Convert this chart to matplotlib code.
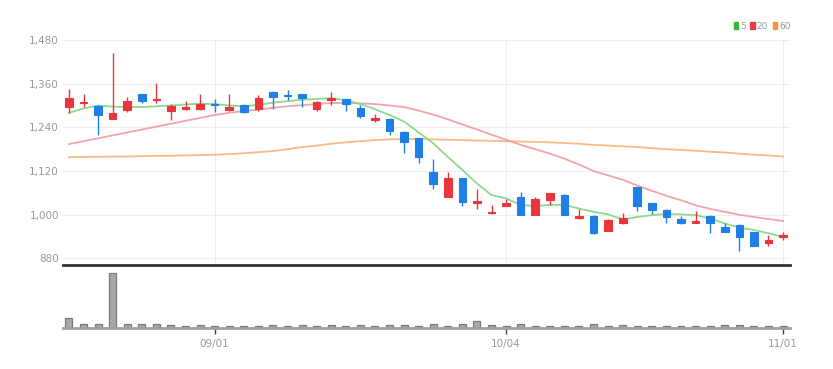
import matplotlib
matplotlib.use('Agg')
import matplotlib.pyplot as plt
from matplotlib.patches import Patch
import numpy as np

# Daily candles, 2022-08-18 .. 2022-11-01 (trading days)
opens = [1297, 1306, 1300, 1263, 1288, 1331, 1314, 1285, 1290, 1290,
         1304, 1288, 1302, 1290, 1338, 1328, 1331, 1290, 1315, 1317,
         1294, 1260, 1262, 1228, 1210, 1118, 1049, 1100, 1033, 1004,
         1024, 1048, 999, 1040, 1054, 990, 996, 956, 977, 1075,
         1031, 1013, 988, 978, 996, 967, 972, 952, 923, 939]
closes = [1320, 1310, 1274, 1279, 1312, 1313, 1319, 1299, 1297, 1303,
          1302, 1297, 1281, 1322, 1324, 1325, 1322, 1309, 1320, 1303,
          1271, 1265, 1230, 1199, 1160, 1084, 1100, 1036, 1038, 1008,
          1031, 999, 1043, 1060, 999, 996, 949, 985, 992, 1024,
          1013, 993, 976, 983, 978, 953, 939, 914, 932, 944]
highs = [1345, 1332, 1302, 1445, 1324, 1332, 1361, 1303, 1312, 1331,
         1317, 1331, 1304, 1329, 1340, 1342, 1332, 1312, 1338, 1319,
         1301, 1278, 1266, 1230, 1212, 1152, 1118, 1102, 1070, 1027,
         1042, 1063, 1048, 1061, 1056, 1015, 998, 987, 1004, 1077,
         1033, 1015, 996, 1010, 998, 978, 974, 954, 944, 953]
lows = [1280, 1297, 1219, 1262, 1283, 1306, 1306, 1260, 1288, 1287,
        1283, 1286, 1279, 1286, 1290, 1315, 1297, 1286, 1301, 1285,
        1266, 1254, 1219, 1170, 1143, 1070, 1049, 1024, 1015, 1001,
        1023, 998, 998, 1027, 998, 989, 948, 955, 975, 1010,
        1001, 978, 975, 978, 950, 952, 900, 913, 914, 930]
volumes = [104, 37, 37, 544, 40, 37, 37, 25, 20, 25,
           23, 20, 20, 20, 25, 20, 25, 20, 25, 20,
           25, 15, 25, 25, 20, 40, 20, 40, 67, 25,
           20, 35, 20, 20, 20, 15, 35, 15, 25, 20,
           15, 15, 20, 20, 15, 25, 25, 20, 15, 15]

ma5 = [1280, 1292, 1300, 1297, 1296, 1296, 1298, 1300, 1303, 1305,
       1304, 1300, 1298, 1302, 1308, 1312, 1316, 1318, 1320, 1315,
       1304, 1290, 1274, 1256, 1226, 1196, 1159, 1123, 1086, 1054,
       1045, 1027, 1024, 1027, 1027, 1017, 1008, 1001, 987, 994,
       999, 1002, 1001, 999, 990, 976, 965, 958, 949, 939]
ma20 = [1194, 1202, 1210, 1218, 1226, 1234, 1242, 1250, 1258, 1266,
        1274, 1280, 1285, 1289, 1294, 1298, 1301, 1304, 1307, 1307,
        1306, 1304, 1300, 1296, 1286, 1275, 1262, 1248, 1234, 1220,
        1206, 1192, 1180, 1168, 1154, 1138, 1120, 1108, 1096, 1080,
        1066, 1052, 1040, 1026, 1016, 1008, 1000, 994, 988, 983]
ma60 = [1158, 1159, 1159, 1160, 1160, 1161, 1162, 1162, 1163, 1164,
        1165, 1167, 1169, 1172, 1175, 1180, 1186, 1190, 1195, 1199,
        1202, 1205, 1207, 1208, 1208, 1207, 1206, 1205, 1204, 1203,
        1202, 1201, 1200, 1199, 1197, 1195, 1192, 1190, 1188, 1186,
        1183, 1180, 1178, 1176, 1173, 1171, 1168, 1165, 1163, 1160]

date_ticks = [10, 30, 49]
date_labels = ['09/01', '10/04', '11/01']
price_ticks = [880, 1000, 1120, 1240, 1360, 1480]

plt.rcParams['font.family'] = ['Liberation Sans Narrow', 'DejaVu Sans']

up_col = '#e8363c'
down_col = '#1f7fe6'
txt_col = '#999999'

x = np.arange(len(opens))
o = np.array(opens)
c = np.array(closes)
cols = [up_col if cc >= oo else down_col for oo, cc in zip(o, c)]

fig = plt.figure(figsize=(8.33, 3.69), dpi=100)
W, H = 833, 369
left, right = 63, 790
ax = fig.add_axes([left / W, 1 - 265 / H, (right - left) / W, (265 - 40) / H])
axv = fig.add_axes([left / W, 1 - 328 / H, (right - left) / W, (328 - 271) / H])

# moving averages
ax.plot(x, ma60, color='#f7b27a', lw=1.3, alpha=0.9, zorder=2)
ax.plot(x, ma20, color='#f39aa2', lw=1.3, alpha=0.9, zorder=2)
ax.plot(x, ma5, color='#86d886', lw=1.3, alpha=0.95, zorder=2)

# candles
ax.vlines(x, lows, highs, colors=cols, lw=1, zorder=3)
ax.bar(x, np.abs(c - o), bottom=np.minimum(o, c), width=0.52,
       color=cols, edgecolor=cols, lw=0.8, zorder=4)

ax.set_xlim(-0.41, 49.48)
ax.set_ylim(862, 1480)
ax.set_yticks(price_ticks)
ax.set_yticklabels(['{:,}'.format(p) for p in price_ticks])
ax.set_xticks(date_ticks)
ax.tick_params(axis='x', length=0, labelbottom=False)
ax.tick_params(axis='y', length=0, labelsize=7.5, colors=txt_col, pad=3)
ax.grid(True, color='#eeeeee', lw=0.8)
ax.set_axisbelow(True)
for s in ['top', 'right', 'left']:
    ax.spines[s].set_visible(False)
ax.spines['bottom'].set_color('#333333')
ax.spines['bottom'].set_linewidth(2)

# volume
axv.bar(x, volumes, width=0.48, color='#a8a8a8', edgecolor='#7a7a7a', lw=0.9)
axv.set_xlim(-0.41, 49.48)
axv.set_ylim(0, max(volumes) * 1.04)
axv.set_yticks([])
axv.set_xticks(date_ticks)
axv.set_xticklabels(date_labels)
axv.tick_params(axis='x', length=4, width=1, color='#444444',
                labelsize=7.5, labelcolor=txt_col, pad=4)
for s in ['top', 'right', 'left']:
    axv.spines[s].set_visible(False)
axv.spines['bottom'].set_color('#a0a0a0')
axv.spines['bottom'].set_linewidth(2)

# legend
handles = [Patch(color='#3cb43c', label='5'),
           Patch(color='#ee3d47', label='20'),
           Patch(color='#f0973a', label='60')]
leg = fig.legend(handles=handles, loc='upper right', bbox_to_anchor=(795 / W, 1 - 17 / H),
                 ncol=3, frameon=False, fontsize=6.5, handlelength=0.5, handleheight=0.9,
                 handletextpad=0.2, columnspacing=0.5, borderpad=0)
for t in leg.get_texts():
    t.set_color(txt_col)

fig.savefig('out.png', dpi=100)
